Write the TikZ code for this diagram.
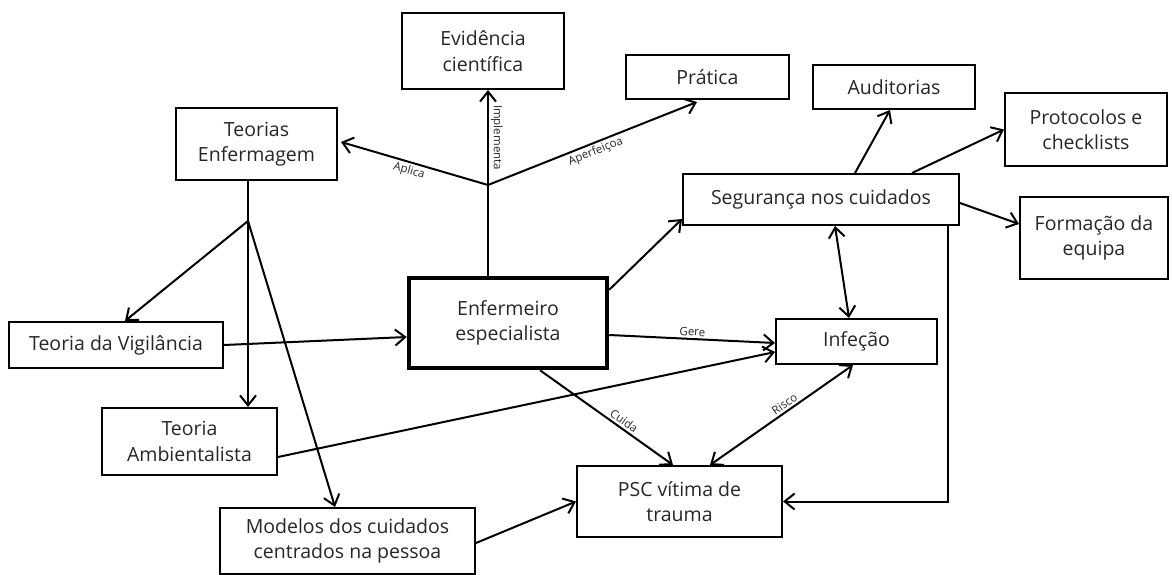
\documentclass[tikz,border=0pt]{standalone}
\usepackage{fontspec}
\setmainfont{Open Sans}
\usetikzlibrary{arrows.meta,calc}
\begin{document}
\begin{tikzpicture}[x=1pt,y=-1pt,
  box/.style={draw=black, line width=2pt, align=center, inner sep=0pt,
    font=\fontsize{19.5}{25.5}\selectfont, text=black!85},
  lbl/.style={font=\fontsize{11.5}{13}\selectfont, inner sep=2pt, text=black!85},
  arr/.style={line width=2pt, -{Straight Barb[length=10pt,width=16pt]}},
  darr/.style={line width=2pt, {Straight Barb[length=10pt,width=16pt]}-{Straight Barb[length=10pt,width=16pt]}},
  ln/.style={line width=2pt}]
\useasboundingbox (0,0) rectangle (1172,575);

% boxes
\node[box, minimum width=162pt, minimum height=76pt] (evid) at (483,51) {Evidência\\científica};
\node[box, minimum width=163pt, minimum height=44pt] (prat) at (707.5,77) {Prática};
\node[box, minimum width=162pt, minimum height=44pt] (aud) at (894,87) {Auditorias};
\node[box, minimum width=162pt, minimum height=73pt] (prot) at (1086,129.5) {Protocolos e\\checklists};
\node[box, minimum width=161pt, minimum height=72pt] (teor) at (256.5,144) {Teorias\\Enfermagem};
\node[box, minimum width=276pt, minimum height=51pt] (seg) at (821,199.5) {Segurança nos cuidados};
\node[box, minimum width=148pt, minimum height=82pt] (form) at (1094,238) {Formação da\\equipa};
\node[box, line width=4.5pt, minimum width=198pt, minimum height=90pt] (enf) at (508,323) {Enfermeiro\\especialista};
\node[box, minimum width=214pt, minimum height=46pt] (vig) at (116,345) {Teoria da Vigilância};
\node[box, minimum width=161pt, minimum height=45pt] (inf) at (856.5,341.5) {Infeção};
\node[box, minimum width=175pt, minimum height=67pt] (amb) at (189.5,441.5) {Teoria\\Ambientalista};
\node[box, minimum width=205pt, minimum height=71pt] (psc) at (679.5,501.5) {PSC vítima de\\trauma};
\node[box, minimum width=255pt, minimum height=66pt] (mod) at (347.5,541) {Modelos dos cuidados\\centrados na pessoa};

% junction above Enfermeiro
\coordinate (J) at (488,185);
\draw[ln] (enf.north -| J) -- (J);
\draw[arr] (J) -- node[pos=0.52, sloped, below, lbl] {Aplica} ($(teor.east)+(3,-2)$);
\draw[arr] (J) -- node[pos=0.5, rotate=-90, anchor=south, lbl] {Implementa} (evid.south -| J);
\draw[arr] (J) -- node[pos=0.5, sloped, below, lbl] {Aperfeiçoa} ($(prat.south)+(-10.5,2)$);

% Teorias Enfermagem fan
\coordinate (B) at (248,221);
\draw[ln] (teor.south -| B) -- (B);
\draw[arr] (B) -- (amb.north -| B);
\draw[arr] (B) -- ($(vig.north)+(9,0)$);
\draw[arr] (B) -- ($(mod.north)+(-12.5,0)$);

% into Enfermeiro / Infeção
\draw[arr] (vig.east) -- ($(enf.west)+(0,14)$);
\draw[arr] ($(amb.east)+(0,15.5)$) -- ($(inf.west)+(0,10.5)$);
\draw[arr] ($(enf.east)+(0,12)$) -- node[pos=0.5, sloped, above, lbl] {Gere} ($(inf.west)+(0,1.5)$);
\draw[arr] ($(enf.north east)+(0,14)$) -- ($(seg.south west)+(0,-7)$);
\draw[arr] ($(enf.south)+(32,0)$) -- node[pos=0.6, sloped, above, lbl] {Cuida} ($(psc.north)+(-6.5,0)$);
\draw[darr] ($(inf.south)+(-3.5,0)$) -- node[pos=0.45, sloped, above, lbl] {Risco} ($(psc.north)+(30.5,0)$);

% Segurança connections
\draw[darr] ($(seg.south)+(14,0)$) -- ($(inf.north)+(-7.5,0)$);
\draw[arr] ($(seg.north)+(34,0)$) -- ($(aud.south)+(-4,0)$);
\draw[arr] ($(seg.north)+(91,0)$) -- (prot.west);
\draw[arr] ($(seg.east)+(0,3.5)$) -- ($(form.west)+(0,-14)$);
\draw[arr] ($(seg.south east)+(-12,0)$) |- (psc.east);

% Modelos to PSC
\draw[arr] ($(mod.east)+(0,2)$) -- (psc.west);
\end{tikzpicture}
\end{document}
